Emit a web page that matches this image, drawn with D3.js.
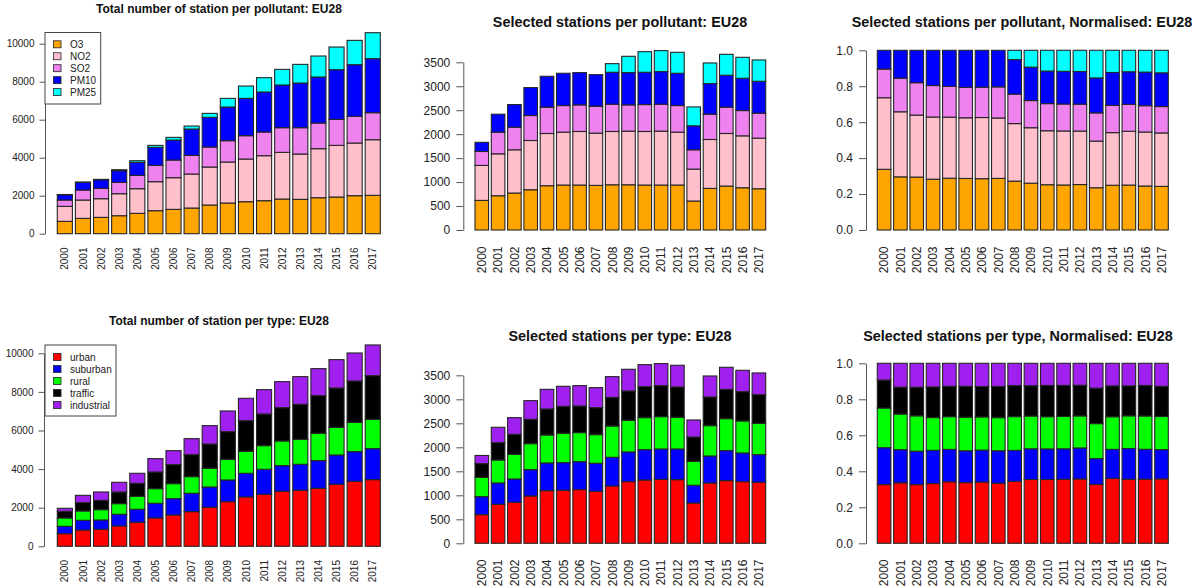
<!DOCTYPE html>
<html>
<head>
<meta charset="utf-8">
<script src="https://cdn.jsdelivr.net/npm/d3@7"></script>
<style>
  html, body { margin: 0; padding: 0; background: #ffffff; }
  svg { display: block; font-family: "Liberation Sans", Arial, Helvetica, sans-serif; }
</style>
</head>
<body>
<svg id="chart" width="1192" height="586"></svg>
<script>
// ---- Categories ----
const years = ["2000","2001","2002","2003","2004","2005","2006","2007","2008",
               "2009","2010","2011","2012","2013","2014","2015","2016","2017"];
const pollutants = ["O3", "NO2", "SO2", "PM10", "PM25"];
const pollutantColors = ["#FFA500", "#FFC0CB", "#EE82EE", "#0000FF", "#00FFFF"];
const stationTypes = ["urban", "suburban", "rural", "traffic", "industrial"];
const typeColors = ["#FF0000", "#0000FF", "#00FF00", "#000000", "#A020F0"];

// ---- All stations per pollutant (EU28) ----
const allO3   = [649, 807, 860, 947, 1070, 1211, 1281, 1351, 1509, 1614, 1684, 1737, 1825, 1807, 1895, 1930, 2000, 2018];
const allNO2  = [790, 965, 982, 1158, 1298, 1526, 1666, 1789, 2000, 2158, 2246, 2368, 2456, 2386, 2579, 2719, 2772, 2929];
const allSO2  = [333, 526, 544, 597, 702, 859, 930, 983, 1052, 1123, 1228, 1246, 1298, 1386, 1351, 1369, 1403, 1421];
const allPM10 = [276, 404, 456, 614, 684, 948, 1053, 1386, 1562, 1772, 1965, 2105, 2246, 2351, 2421, 2614, 2720, 2843];
const allPM25 = [15, 17, 18, 52, 88, 105, 140, 158, 210, 456, 649, 755, 824, 982, 1105, 1193, 1280, 1368];

// ---- Selected stations per pollutant (EU28) ----
const selO3   = [618, 715, 771, 840, 924, 938, 938, 931, 944, 944, 938, 938, 938, 604, 868, 917, 882, 861];
const selNO2  = [729, 875, 903, 1028, 1090, 1104, 1118, 1090, 1112, 1119, 1118, 1125, 1104, 667, 1021, 1097, 1083, 1056];
const selSO2  = [292, 452, 472, 521, 549, 555, 555, 562, 569, 548, 562, 562, 555, 403, 528, 549, 528, 521];
const selPM10 = [191, 375, 472, 583, 645, 674, 674, 660, 667, 674, 674, 681, 674, 500, 639, 666, 674, 666];
const selPM25 = [0, 0, 0, 0, 0, 0, 0, 0, 180, 340, 430, 438, 438, 395, 430, 438, 437, 445];

// ---- All stations per type (EU28) ----
const allUrban      = [656, 846, 881, 1054, 1244, 1468, 1623, 1796, 2021, 2314, 2556, 2694, 2850, 2902, 3005, 3212, 3368, 3454];
const allSuburban   = [380, 501, 483, 604, 673, 760, 847, 950, 1053, 1123, 1226, 1296, 1330, 1347, 1434, 1520, 1537, 1606];
const allRural      = [432, 484, 536, 553, 674, 760, 777, 864, 967, 1071, 1140, 1226, 1278, 1295, 1416, 1434, 1520, 1520];
const allTraffic    = [345, 432, 483, 604, 673, 863, 984, 1140, 1261, 1433, 1589, 1641, 1727, 1814, 1952, 2038, 2141, 2263];
const allIndustrial = [156, 379, 432, 501, 518, 691, 726, 829, 950, 1071, 1157, 1260, 1347, 1433, 1399, 1468, 1451, 1589];

// ---- Selected stations per type (EU28) ----
const selUrban      = [597, 812, 854, 986, 1097, 1104, 1118, 1083, 1194, 1285, 1319, 1333, 1326, 840, 1257, 1306, 1285, 1271];
const selSuburban   = [375, 445, 486, 549, 577, 577, 583, 584, 598, 618, 632, 632, 639, 368, 562, 625, 597, 576];
const selRural      = [403, 479, 514, 541, 583, 611, 605, 597, 652, 660, 667, 674, 660, 500, 632, 666, 667, 653];
const selTraffic    = [285, 361, 417, 507, 542, 562, 555, 562, 598, 611, 646, 646, 632, 507, 598, 611, 611, 597];
const selIndustrial = [170, 320, 347, 389, 409, 417, 424, 417, 430, 451, 458, 459, 452, 354, 437, 459, 444, 452];

// ---- Axis ticks ----
const countTicksAll = [0, 2000, 4000, 6000, 8000, 10000];
const countTicksSel = [0, 500, 1000, 1500, 2000, 2500, 3000, 3500];
const shareTicks = [0, 0.2, 0.4, 0.6, 0.8, 1.0];

// Build one row per year from a set of series arrays
function tableOf(keys, arrays) {
  return years.map((yr, i) => {
    const row = { year: yr };
    keys.forEach((k, j) => { row[k] = arrays[j][i]; });
    return row;
  });
}

const svg = d3.select("#chart");
svg.append("rect").attr("width", 1192).attr("height", 586).attr("fill", "#ffffff");

function drawPanel(cfg) {
  const g = svg.append("g");
  const x = d3.scaleBand().domain(years)
    .range([cfg.barLeft, cfg.barRight]).paddingInner(1 / 6).paddingOuter(0);
  const y = d3.scaleLinear().domain([0, cfg.ticks[cfg.ticks.length - 1]])
    .range([cfg.yZero, cfg.yTopPx]);

  const stack = d3.stack().keys(cfg.keys);
  if (cfg.normalise) stack.offset(d3.stackOffsetExpand);
  const layers = stack(cfg.data);

  g.selectAll("g.layer").data(layers).join("g")
    .attr("class", "layer")
    .attr("fill", (d, i) => cfg.colors[i])
    .selectAll("rect")
    .data(d => d.filter(s => s[1] - s[0] > 0))
    .join("rect")
    .attr("x", d => x(d.data.year))
    .attr("width", x.bandwidth())
    .attr("y", d => y(d[1]))
    .attr("height", d => y(d[0]) - y(d[1]))
    .attr("stroke", "#262626")
    .attr("stroke-width", 1.1);

  // value axis
  const axis = d3.axisLeft(y).tickValues(cfg.ticks)
    .tickSize(cfg.tickLen).tickSizeOuter(0).tickPadding(cfg.tickPad)
    .tickFormat(cfg.format);
  const ag = g.append("g").attr("transform", `translate(${cfg.axisX},0)`).call(axis);
  ag.select(".domain").attr("stroke", "#555").attr("stroke-width", 1);
  ag.selectAll(".tick line").attr("stroke", "#555").attr("stroke-width", 1);
  ag.selectAll(".tick text").attr("fill", "#222").attr("font-size", cfg.fontSize)
    .attr("font-family", "Liberation Sans, Arial, Helvetica, sans-serif");

  // year labels, perpendicular to the axis
  g.selectAll("text.year").data(years).join("text")
    .attr("class", "year")
    .attr("transform", d => `translate(${x(d) + x.bandwidth() / 2},${cfg.labelTop}) rotate(-90)`)
    .attr("text-anchor", "end")
    .attr("dy", "0.36em")
    .attr("font-size", cfg.fontSize)
    .attr("fill", "#222")
    .text(d => d);

  // title
  g.append("text")
    .attr("x", cfg.titleX).attr("y", cfg.titleY)
    .attr("text-anchor", "middle")
    .attr("font-weight", "bold")
    .attr("font-size", cfg.titleSize)
    .attr("fill", "#111")
    .text(cfg.title);

  // legend
  if (cfg.legend) {
    const L = cfg.legend;
    const lg = g.append("g");
    lg.append("rect")
      .attr("x", L.x).attr("y", L.y).attr("width", L.w).attr("height", L.h)
      .attr("fill", "#fff").attr("stroke", "#444").attr("stroke-width", 1);
    cfg.keys.forEach((k, i) => {
      const cy = L.firstRow + i * L.rowGap;
      lg.append("rect")
        .attr("x", L.x + 8.5).attr("y", cy - 3.5).attr("width", 7.5).attr("height", 7)
        .attr("fill", cfg.colors[i]).attr("stroke", "#222").attr("stroke-width", 0.8);
      lg.append("text")
        .attr("x", L.x + 25).attr("y", cy).attr("dy", "0.36em")
        .attr("font-size", cfg.fontSize).attr("fill", "#222")
        .text(k);
    });
  }
}

const fmtCount = d3.format("d");
const fmtShare = d3.format(".1f");

drawPanel({
  title: "Total number of station per pollutant: EU28", titleX: 219, titleY: 12.5, titleSize: 12,
  keys: pollutants, colors: pollutantColors,
  data: tableOf(pollutants, [allO3, allNO2, allSO2, allPM10, allPM25]),
  ticks: countTicksAll, format: fmtCount,
  barLeft: 57.3, barRight: 380.3, yZero: 233.7, yTopPx: 43.7,
  axisX: 45, tickLen: 5.5, tickPad: 5, fontSize: 10, labelTop: 247.5,
  legend: { x: 45, y: 32.5, w: 55.7, h: 71.5, firstRow: 44.3, rowGap: 11.95 }
});

drawPanel({
  title: "Selected stations per pollutant: EU28", titleX: 620, titleY: 27, titleSize: 14.4,
  keys: pollutants, colors: pollutantColors,
  data: tableOf(pollutants, [selO3, selNO2, selSO2, selPM10, selPM25]),
  ticks: countTicksSel, format: fmtCount,
  barLeft: 475, barRight: 765.7, yZero: 230, yTopPx: 62.3,
  axisX: 463.3, tickLen: 7, tickPad: 6, fontSize: 12, labelTop: 246.5
});

drawPanel({
  title: "Selected stations per pollutant, Normalised: EU28", titleX: 1022, titleY: 27, titleSize: 14.4,
  keys: pollutants, colors: pollutantColors, normalise: true,
  data: tableOf(pollutants, [selO3, selNO2, selSO2, selPM10, selPM25]),
  ticks: shareTicks, format: fmtShare,
  barLeft: 877.3, barRight: 1168.3, yZero: 230, yTopPx: 50.3,
  axisX: 866, tickLen: 7, tickPad: 6, fontSize: 12, labelTop: 246.5
});

drawPanel({
  title: "Total number of station per type: EU28", titleX: 219, titleY: 325, titleSize: 12,
  keys: stationTypes, colors: typeColors,
  data: tableOf(stationTypes, [allUrban, allSuburban, allRural, allTraffic, allIndustrial]),
  ticks: countTicksAll, format: fmtCount,
  barLeft: 57.3, barRight: 380.3, yZero: 546.3, yTopPx: 353.3,
  axisX: 44, tickLen: 5.5, tickPad: 5, fontSize: 10, labelTop: 560,
  legend: { x: 45, y: 345, w: 71, h: 71, firstRow: 357, rowGap: 12 }
});

drawPanel({
  title: "Selected stations per type: EU28", titleX: 620, titleY: 340.5, titleSize: 14.4,
  keys: stationTypes, colors: typeColors,
  data: tableOf(stationTypes, [selUrban, selSuburban, selRural, selTraffic, selIndustrial]),
  ticks: countTicksSel, format: fmtCount,
  barLeft: 475, barRight: 765.7, yZero: 543.3, yTopPx: 375.3,
  axisX: 463.3, tickLen: 7, tickPad: 6, fontSize: 12, labelTop: 559.5
});

drawPanel({
  title: "Selected stations per type, Normalised: EU28", titleX: 1018, titleY: 340.5, titleSize: 14.4,
  keys: stationTypes, colors: typeColors, normalise: true,
  data: tableOf(stationTypes, [selUrban, selSuburban, selRural, selTraffic, selIndustrial]),
  ticks: shareTicks, format: fmtShare,
  barLeft: 877.3, barRight: 1168.3, yZero: 543.3, yTopPx: 363.3,
  axisX: 866, tickLen: 7, tickPad: 6, fontSize: 12, labelTop: 559.5
});
</script>
</body>
</html>
